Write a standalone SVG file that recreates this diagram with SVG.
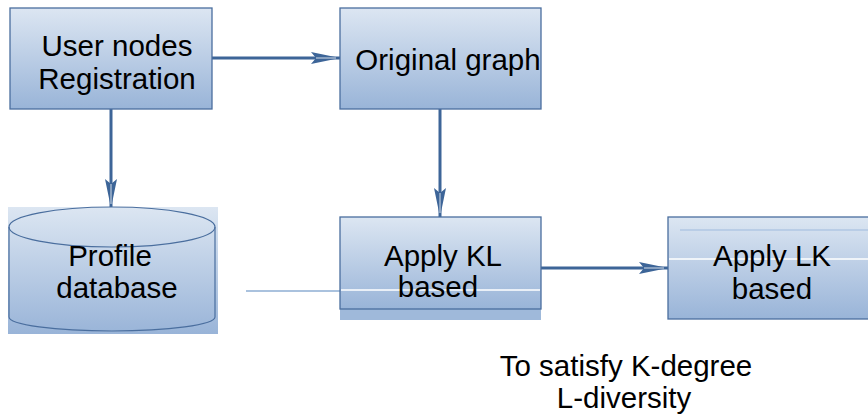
<svg xmlns="http://www.w3.org/2000/svg" width="868" height="414" viewBox="0 0 868 414">
<defs>
<linearGradient id="g" x1="0" y1="0" x2="0" y2="1">
<stop offset="0" stop-color="#dce6f2"/>
<stop offset="1" stop-color="#99b4d8"/>
</linearGradient>
<marker id="ah" markerWidth="30" markerHeight="14" refX="29" refY="7" orient="auto" markerUnits="userSpaceOnUse">
<polygon points="0,1 29,7 0,13 5,7" fill="#3d6598"/>
<line x1="5" y1="7" x2="25" y2="7" stroke="#ffffff" stroke-width="0.8"/>
</marker>
<style>
.box{fill:url(#g);stroke:#4a6e9e;stroke-width:1.3}
.t{font-family:"Liberation Sans",Arial,sans-serif;font-size:29.5px;fill:#000;text-anchor:middle}
.c{fill:none;stroke:#3d6598;stroke-width:3;marker-end:url(#ah)}
</style>
</defs>
<rect width="868" height="414" fill="#ffffff"/>
<g id="connectors">
<line class="c" x1="212" y1="58" x2="340" y2="58"/>
<line class="c" x1="111" y1="109" x2="111" y2="208"/>
<line class="c" x1="440" y1="109" x2="440" y2="217"/>
<line class="c" x1="541" y1="268" x2="668" y2="268"/>
<line x1="246" y1="291" x2="340" y2="291" stroke="#8eaed3" stroke-width="1.5"/>
</g>
<g id="user-nodes">
<rect class="box" x="10" y="8" width="202" height="101"/>
<text class="t" x="117" y="56">User nodes</text>
<text class="t" x="117" y="89">Registration</text>
</g>
<g id="original-graph">
<rect class="box" x="340" y="8" width="201" height="101"/>
<text class="t" x="448" y="70">Original graph</text>
</g>
<g id="profile-db">
<rect x="8" y="207" width="210" height="127" fill="url(#g)"/>
<path d="M9,227 L9,317 A103,14 0 0 0 215,317 L215,227" fill="none" stroke="#4a6e9e" stroke-width="1.2"/>
<ellipse cx="112" cy="227" rx="103" ry="20" fill="none" stroke="#4a6e9e" stroke-width="1.2"/>
<text class="t" x="110" y="266">Profile</text>
<text class="t" x="117" y="298">database</text>
</g>
<g id="apply-kl">
<rect x="340" y="309" width="201" height="11" fill="#9fb9da"/>
<rect class="box" x="340" y="217" width="201" height="92"/>
<line x1="341" y1="290" x2="540" y2="290" stroke="#ffffff" stroke-width="1.5"/>
<text class="t" x="443" y="266">Apply KL</text>
<text class="t" x="438" y="297">based</text>
</g>
<g id="apply-lk">
<rect class="box" x="668" y="217" width="210" height="102"/>
<line x1="680" y1="230" x2="868" y2="230" stroke="#b9cde6" stroke-width="2"/>
<line x1="669" y1="259" x2="868" y2="259" stroke="#ffffff" stroke-width="1.5"/>
<text class="t" x="772" y="266">Apply LK</text>
<text class="t" x="772" y="299">based</text>
</g>
<g id="note">
<text class="t" x="626" y="376">To satisfy K-degree</text>
<text class="t" x="624" y="408">L-diversity</text>
</g>
</svg>
